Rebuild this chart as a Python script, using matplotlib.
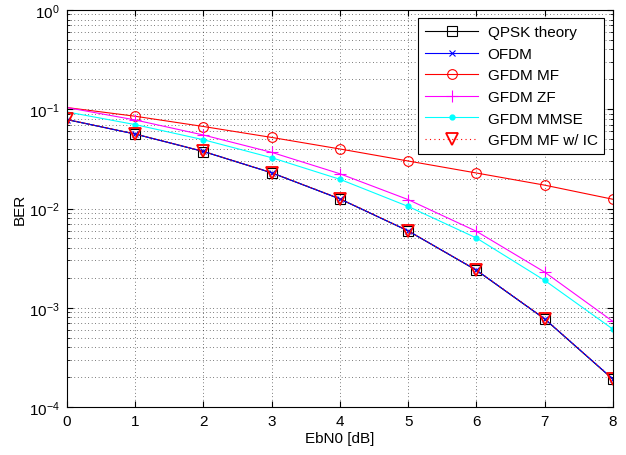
import matplotlib.pyplot as plt
import numpy as np
from matplotlib import ticker

plt.rcParams['font.family'] = ['Liberation Sans', 'DejaVu Sans']

ebn0 = [0, 1, 2, 3, 4, 5, 6, 7, 8]
ber_qpsk = [0.0786, 0.0563, 0.0375, 0.0229, 0.0125, 0.00595, 0.00239, 0.000773, 0.000191]
ber_ofdm = [0.0787, 0.0562, 0.0376, 0.0229, 0.0125, 0.00596, 0.00240, 0.000775, 0.000192]
ber_mf = [0.104, 0.085, 0.067, 0.052, 0.0398, 0.0301, 0.0228, 0.0172, 0.0124]
ber_zf = [0.104, 0.078, 0.055, 0.0368, 0.0224, 0.0123, 0.0059, 0.00229, 0.00073]
ber_mmse = [0.094, 0.070, 0.0493, 0.0325, 0.0197, 0.0105, 0.00505, 0.00189, 0.00061]
ber_mf_ic = [0.0790, 0.0565, 0.0377, 0.0230, 0.0126, 0.00597, 0.00241, 0.000780, 0.000193]

fig = plt.figure(figsize=(6.26, 4.56), dpi=100)
ax = fig.add_axes([0.107, 0.105, 0.872, 0.871])

skip0 = list(range(1, 9))
ax.semilogy(ebn0, ber_qpsk, color='k', lw=0.8, marker='s', ms=7, mfc='none',
            mew=0.8, markevery=skip0, label='QPSK theory')
ax.semilogy(ebn0, ber_ofdm, color='#0000ff', lw=0.8, marker='x', ms=4, mew=0.8,
            label='OFDM')
ax.semilogy(ebn0, ber_mf, color='#ff0000', lw=0.8, marker='o', ms=7, mfc='none',
            mew=0.8, markevery=skip0, label='GFDM MF')
ax.semilogy(ebn0, ber_zf, color='#ff00ff', lw=0.8, marker='+', ms=8, mew=0.8,
            markevery=skip0, label='GFDM ZF')
ax.semilogy(ebn0, ber_mmse, color='#00ffff', lw=0.8, marker='.', ms=7,
            markevery=skip0, label='GFDM MMSE')
ax.semilogy(ebn0, ber_mf_ic, color='#ff0000', lw=0.8, ls=(0, (1, 3)), marker='v',
            ms=9, mfc='none', mew=1.3, label='GFDM MF w/ IC')

ax.set_xlim(0, 8)
ax.set_ylim(1e-4, 1)
ax.xaxis.set_major_locator(ticker.MultipleLocator(1))
ax.yaxis.set_minor_locator(ticker.LogLocator(base=10, subs=np.arange(2, 10)))
ax.yaxis.set_minor_formatter(ticker.NullFormatter())
grid_style = dict(ls=(0, (1, 4)), color='k', lw=0.5)
ax.grid(True, which='major', **grid_style)
ax.grid(True, which='minor', axis='y', **grid_style)
ax.tick_params(which='both', direction='in', top=True, right=True, labelsize=11)
ax.tick_params(which='major', length=4, pad=5)
ax.tick_params(which='minor', length=2)
for s in ax.spines.values():
    s.set_linewidth(0.8)

ax.set_xlabel('EbN0 [dB]', fontsize=11, labelpad=2)
ax.set_ylabel('BER', fontsize=11, labelpad=2)

leg = ax.legend(loc='upper right', fontsize=11, fancybox=False, framealpha=1,
                edgecolor='k', borderaxespad=0.55, handlelength=3.5,
                labelspacing=0.5, borderpad=0.45, handletextpad=0.6)
leg.get_frame().set_linewidth(0.8)

fig.savefig('out.png', dpi=100)
